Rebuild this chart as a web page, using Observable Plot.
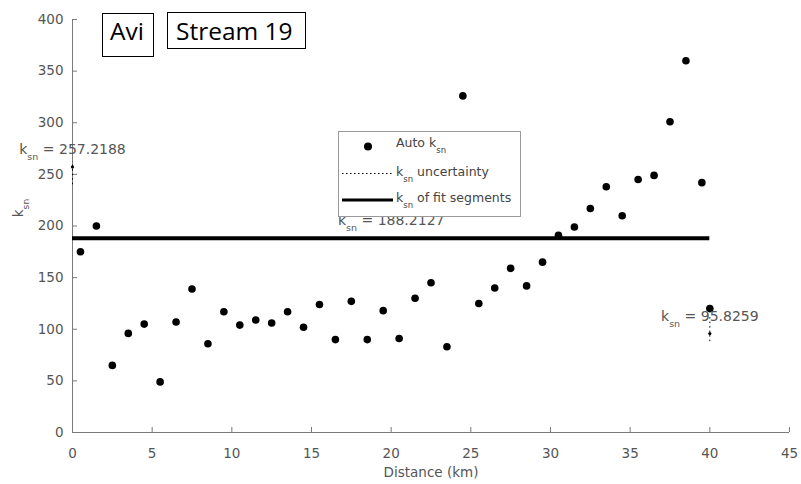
<!DOCTYPE html>
<html>
<head>
<meta charset="utf-8">
<script src="https://cdn.jsdelivr.net/npm/d3@7"></script>
<script src="https://cdn.jsdelivr.net/npm/@observablehq/plot@0.6"></script>
<style>
  html, body { margin: 0; padding: 0; background: #fff; }
  #chart { position: relative; width: 801px; height: 484px; }
</style>
</head>
<body>
<div id="chart"></div>
<script>
// ---- data ----
const distanceKm = [0.5, 1.5, 2.5, 3.5, 4.5, 5.5, 6.5, 7.5, 8.5, 9.5,
  10.5, 11.5, 12.5, 13.5, 14.5, 15.5, 16.5, 17.5, 18.5, 19.5,
  20.5, 21.5, 22.5, 23.5, 24.5, 25.5, 26.5, 27.5, 28.5, 29.5,
  30.5, 31.5, 32.5, 33.5, 34.5, 35.5, 36.5, 37.5, 38.5, 39.5, 40];
const autoKsn = [175, 200, 65, 96, 105, 49, 107, 139, 86, 117,
  104, 109, 106, 117, 102, 124, 90, 127, 90, 118,
  91, 130, 145, 83, 326, 125, 140, 159, 142, 165,
  191, 199, 217, 238, 210, 245, 249, 301, 360, 242, 120];

const segStart = [0];
const segEnd = [40];
const segKsn = [188.2127];

const labelDist = [0, 20, 40];
const labelKsn = [257.2188, 188.2127, 95.8259];

const endDist = [0, 40];
const endKsn = [257.2188, 95.8259];
const uncLow = [240, 88];
const uncHigh = [262, 114];

const xTicks = [0, 5, 10, 15, 20, 25, 30, 35, 40, 45];
const yTicks = [0, 50, 100, 150, 200, 250, 300, 350, 400];

const xLabel = "Distance (km)";
const yLabel = "k_sn";
const legendLabels = ["Auto k_sn", "k_sn uncertainty", "k_sn of fit segments"];
const boxLabels = ["Avi", "Stream 19"];

// ---- tables ----
const points = distanceKm.map((d, i) => ({d, k: autoKsn[i]}));
const segments = segStart.map((s, i) => ({s, e: segEnd[i], k: segKsn[i]}));
const labels = labelDist.map((d, i) => ({d, k: labelKsn[i]}));
const ends = endDist.map((d, i) => ({d, k: endKsn[i], lo: uncLow[i], hi: uncHigh[i]}));

const axisGray = "#7a7a7a";
const textGray = "#555";

const chart = Plot.plot({
  width: 801,
  height: 484,
  marginLeft: 72,
  marginRight: 12,
  marginTop: 19,
  marginBottom: 52,
  style: {fontFamily: "DejaVu Sans", fontSize: "13.5px", color: textGray, background: "#fff"},
  x: {domain: [0, 45], labelArrow: "none"},
  y: {domain: [0, 400], labelArrow: "none"},
  marks: [
    Plot.axisX({ticks: xTicks, tickSize: -5, tickPadding: 21, stroke: axisGray, fill: textGray,
      label: xLabel, labelAnchor: "center", labelOffset: 44, labelArrow: "none"}),
    Plot.axisY({ticks: yTicks, tickSize: -5, tickPadding: 14, stroke: axisGray, fill: textGray,
      label: null}),
    Plot.ruleX([0], {stroke: axisGray}),
    Plot.ruleY([0], {stroke: axisGray}),
    Plot.ruleX(ends, {x: "d", y1: "lo", y2: "hi", stroke: "#000", strokeDasharray: "1.5,3"}),
    Plot.ruleY(segments, {x1: "s", x2: "e", y: "k", stroke: "#000", strokeWidth: 4}),
    Plot.dot(points, {x: "d", y: "k", r: 3.8, fill: "#000", stroke: null}),
    Plot.dot(ends, {x: "d", y: "k", r: 1.6, fill: "#000", stroke: null}),
    Plot.text(labels, {x: "d", y: "k", text: d => "k_sn = " + d.k, lineAnchor: "bottom",
      dy: -13, fontSize: 14, fill: textGray})
  ]
});

document.getElementById("chart").appendChild(chart);
const svg = d3.select(chart);

// ---- y axis title ----
svg.append("text")
  .attr("transform", "translate(23,208) rotate(-90)")
  .attr("text-anchor", "middle")
  .attr("font-family", "DejaVu Sans")
  .attr("font-size", 13.5)
  .attr("fill", textGray)
  .text(yLabel);

// ---- legend (drawn over the plot, as in the reference) ----
const lg = svg.append("g")
  .attr("font-family", "DejaVu Sans").attr("font-size", 12.5)
  .attr("fill", "#444").attr("text-anchor", "start");
lg.append("rect").attr("x", 338.5).attr("y", 131.5).attr("width", 182).attr("height", 85)
  .attr("fill", "#fff").attr("stroke", "#999");
lg.append("circle").attr("cx", 368).attr("cy", 146.5).attr("r", 4).attr("fill", "#000");
lg.append("line").attr("x1", 342).attr("x2", 393).attr("y1", 173.5).attr("y2", 173.5)
  .attr("stroke", "#000").attr("stroke-dasharray", "1.5,2.5");
lg.append("line").attr("x1", 342).attr("x2", 393).attr("y1", 200).attr("y2", 200)
  .attr("stroke", "#000").attr("stroke-width", 3);
const rowsY = [147, 176, 202];
legendLabels.forEach((t, i) => {
  lg.append("text").attr("x", 396).attr("y", rowsY[i]).attr("text-anchor", "start").text(t);
});

// ---- title boxes ----
const tb = svg.append("g")
  .attr("font-family", "Open Sans").attr("font-size", 24.5)
  .attr("fill", "#000").attr("text-anchor", "start");
tb.append("rect").attr("x", 102.5).attr("y", 13.5).attr("width", 51).attr("height", 43)
  .attr("fill", "#fff").attr("stroke", "#000");
tb.append("text").attr("x", 110).attr("y", 40).attr("text-anchor", "start").text(boxLabels[0]);
tb.append("rect").attr("x", 167.5).attr("y", 12.5).attr("width", 138).attr("height", 36)
  .attr("fill", "#fff").attr("stroke", "#000");
tb.append("text").attr("x", 176).attr("y", 40).attr("text-anchor", "start").text(boxLabels[1]);

// ---- subscripts for k_sn ----
svg.selectAll("text").each(function() {
  const s = this.textContent;
  const idx = s.indexOf("k_sn");
  if (idx < 0) return;
  const before = s.slice(0, idx) + "k";
  const after = s.slice(idx + 4);
  while (this.firstChild) this.removeChild(this.firstChild);
  const el = d3.select(this);
  el.append("tspan").text(before);
  el.append("tspan").attr("dy", 6).attr("font-size", "0.68em").text("sn");
  if (after.length) el.append("tspan").attr("dy", -6).text(after);
});
</script>
</body>
</html>
